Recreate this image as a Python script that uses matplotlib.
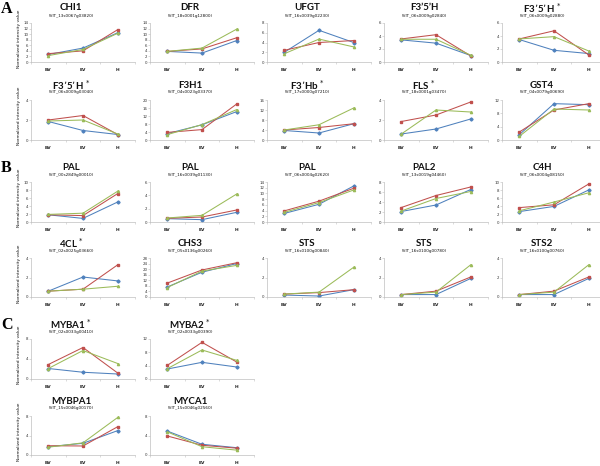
import matplotlib
matplotlib.use("Agg")
import matplotlib.pyplot as plt

categories = ["BV", "EV", "H"]

titles = ["CHI1", "DFR", "UFGT", "F3’5’H", "F3’5’H *",
          "F3’5’H *", "F3H1", "F3’Hb *", "FLS *", "GST4",
          "PAL", "PAL", "PAL", "PAL2", "C4H",
          "4CL *", "CHS3", "STS", "STS", "STS2",
          "MYBA1 *", "MYBA2 *",
          "MYBPA1", "MYCA1"]

gene_ids = ["(VIT_13s0067g03820)", "(VIT_18s0001g12800)", "(VIT_16s0039g02230)",
            "(VIT_06s0009g02840)", "(VIT_06s0009g02880)",
            "(VIT_06s0009g03040)", "(VIT_04s0023g03370)", "(VIT_17s0000g07210)",
            "(VIT_18s0001g03470)", "(VIT_04s0079g00690)",
            "(VIT_00s2849g00010)", "(VIT_16s0039g01130)", "(VIT_06s0004g02620)",
            "(VIT_13s0019g04460)", "(VIT_06s0004g08150)",
            "(VIT_02s0025g03660)", "(VIT_05s0136g00260)", "(VIT_16s0100g00840)",
            "(VIT_16s0100g00780)", "(VIT_16s0100g00760)",
            "(VIT_02s0033g00410)", "(VIT_02s0033g00390)",
            "(VIT_15s0046g00170)", "(VIT_15s0046g02560)"]

y_max = [14, 14, 8, 6, 6,
         4, 20, 16, 4, 12,
         10, 6, 14, 8, 10,
         4, 28, 4, 4, 4,
         8, 12,
         8, 8]
y_step = [2, 2, 2, 2, 2,
          2, 4, 4, 2, 4,
          2, 2, 2, 2, 2,
          2, 4, 2, 2, 2,
          4, 4,
          4, 4]

blue = [[2.7, 5.0, 10.5], [3.8, 3.2, 7.7], [2.0, 6.5, 4.0], [3.4, 2.9, 1.0], [3.45, 1.8, 1.3],
        [1.85, 0.95, 0.55], [3.2, 7.6, 14.2], [3.8, 2.8, 6.5], [0.6, 1.1, 2.1], [1.6, 10.9, 10.6],
        [1.8, 0.9, 5.0], [0.5, 0.35, 1.45], [3.0, 6.2, 12.6], [2.1, 3.4, 6.5], [2.6, 3.9, 8.0],
        [0.6, 2.05, 1.65], [7.2, 17.8, 24.0], [0.2, 0.1, 0.75], [0.25, 0.25, 1.9], [0.25, 0.25, 1.9],
        [2.1, 1.35, 1.0], [3.0, 5.0, 3.6],
        [1.7, 2.4, 5.0], [4.9, 2.2, 1.5]]
red = [[3.0, 4.0, 11.6], [3.8, 4.7, 8.7], [2.4, 4.0, 4.4], [3.55, 4.2, 0.95], [3.55, 4.8, 1.1],
       [2.0, 2.45, 0.55], [3.8, 5.2, 18.0], [4.0, 5.0, 6.5], [1.85, 2.5, 3.8], [2.4, 9.0, 10.9],
       [1.8, 1.6, 7.1], [0.55, 0.75, 1.8], [3.9, 7.3, 11.8], [2.9, 5.3, 7.0], [3.6, 4.3, 9.5],
       [0.6, 0.8, 3.3], [10.0, 19.4, 24.6], [0.3, 0.45, 0.75], [0.25, 0.6, 2.05], [0.25, 0.6, 2.05],
       [2.9, 6.3, 1.2], [4.1, 11.0, 5.1],
       [1.9, 1.85, 5.8], [3.9, 2.0, 1.4]]
green = [[2.3, 4.5, 10.3], [3.8, 5.0, 11.8], [1.7, 4.7, 3.1], [3.5, 3.5, 1.05], [3.55, 3.9, 1.7],
         [1.9, 2.0, 0.6], [2.7, 7.7, 15.2], [4.0, 6.1, 12.8], [0.6, 3.0, 2.8], [1.1, 9.3, 9.0],
         [1.9, 2.2, 7.7], [0.6, 1.0, 4.2], [3.4, 6.8, 11.2], [2.2, 4.7, 6.1], [2.8, 5.0, 7.3],
         [0.6, 0.8, 1.1], [6.8, 18.6, 22.7], [0.3, 0.5, 3.05], [0.25, 0.5, 3.3], [0.25, 0.5, 3.3],
         [2.1, 5.7, 3.1], [3.1, 8.7, 5.6],
         [1.6, 2.5, 7.7], [4.75, 1.7, 1.0]]

section_labels = ["A", "B", "C"]

# ---- layout (pixels) ----
W, H = 600, 466
rows = [(23, 62), (100, 140), (182, 222), (258, 297), (339, 379), (416, 455)]
row_sizes = [5, 5, 5, 5, 2, 2]
col_left = [31, 150, 267, 384, 502]
ax_w = 104
section_pos = [(1, 9), (1, 168), (1, 325)]

C_BLUE, C_RED, C_GREEN = "#4F81BD", "#C0504D", "#9BBB59"
AXC = "#BFBFBF"

fig = plt.figure(figsize=(W / 100, H / 100), dpi=100)


def fx(x):
    return x / W


def fy(y):
    return 1 - y / H


idx = 0
for r, (top, bot) in enumerate(rows):
    for c in range(row_sizes[r]):
        left = col_left[c]
        ax = fig.add_axes([fx(left), fy(bot), ax_w / W, (bot - top) / H])
        xs = range(len(categories))
        for vals, col, mk in ((blue[idx], C_BLUE, "D"), (red[idx], C_RED, "s"), (green[idx], C_GREEN, "^")):
            ax.plot(xs, vals, color=col, lw=0.75, marker=mk, ms=1.6, mec=col, mfc=col)
        ax.set_xlim(-0.5, 2.5)
        ax.set_ylim(0, y_max[idx])
        ax.set_yticks(list(range(0, y_max[idx] + 1, y_step[idx])))
        ax.set_xticks([0, 1, 2])
        ax.set_xticklabels(categories, fontsize=3.2, fontweight="bold", color="#222222")
        ax.set_xticks([-0.5, 0.5, 1.5, 2.5], minor=True)
        ax.tick_params(axis="x", which="major", length=0, pad=4)
        ax.tick_params(axis="x", which="minor", length=1.5, width=0.4, color=AXC)
        ax.tick_params(axis="y", length=1.2, width=0.4, color=AXC, labelsize=2.8, pad=0.8,
                       labelcolor="#333333")
        for s in ("top", "right"):
            ax.spines[s].set_visible(False)
        for s in ("left", "bottom"):
            ax.spines[s].set_color(AXC)
            ax.spines[s].set_linewidth(0.5)
        ax.patch.set_alpha(0)
        tx = left + 40
        t = titles[idx]
        if t.endswith(" *"):
            t = t[:-2] + r" $^{*}$"
        fig.text(fx(tx), fy(top - 15), t, ha="center", va="center",
                 fontsize=7, family="Lato", fontweight="bold", color="#111111")
        fig.text(fx(tx), fy(top - 7.5), gene_ids[idx], ha="center", va="center",
                 fontsize=3, family="DejaVu Sans", color="#111111")
        if c == 0:
            fig.text(fx(19), fy((top + bot) / 2 - 4), "Normalized intensity value",
                     rotation=90, ha="center", va="center", fontsize=3.2, color="#111111")
        idx += 1

for lab, (x, y) in zip(section_labels, section_pos):
    fig.text(fx(x), fy(y), lab, ha="left", va="center", fontsize=11.5,
             family="Liberation Serif", fontweight="bold", color="#000000")

fig.savefig("out.png", dpi=100)
